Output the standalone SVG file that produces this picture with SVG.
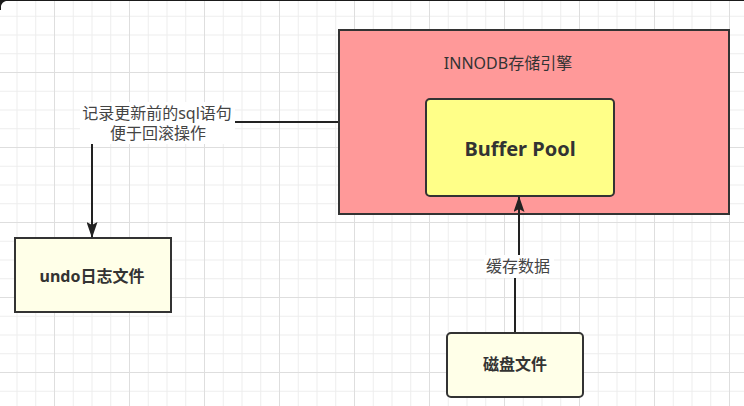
<svg xmlns="http://www.w3.org/2000/svg" width="744" height="406" viewBox="0 0 744 406">
  <defs>
    <pattern id="minor" x="-2.25" y="-3" width="18.75" height="18.75" patternUnits="userSpaceOnUse">
      <path d="M0 0.5 H18.75 M0.5 0 V18.75" fill="none" stroke="#ededed" stroke-width="1"/>
    </pattern>
    <pattern id="major" x="-21" y="-3" width="75" height="75" patternUnits="userSpaceOnUse">
      <path d="M0 0.5 H75 M0.5 0 V75" fill="none" stroke="#dedede" stroke-width="1"/>
    </pattern>
    <marker id="arrow" viewBox="0 0 16 11" refX="15" refY="5.5" markerWidth="16" markerHeight="11" markerUnits="userSpaceOnUse" orient="auto">
      <path d="M0 0 L16 5.5 L0 11 L3 5.5 Z" fill="#222"/>
    </marker>
    <style>
      .box { stroke: #333; stroke-width: 2; }
      .title { font-family: "Noto Sans", "Noto Sans CJK SC", sans-serif; fill: #333; text-anchor: middle; dominant-baseline: central; }
      .bold { font-weight: bold; font-size: 16px; }
      .label { font-family: "Noto Sans", "Noto Sans CJK SC", sans-serif; font-size: 16px; fill: #444; text-anchor: middle; dominant-baseline: central; }
      .edge { fill: none; stroke: #222; stroke-width: 2; }
    </style>
  </defs>

  <rect width="744" height="406" fill="#ffffff"/>
  <rect width="744" height="406" fill="url(#minor)"/>
  <rect width="744" height="406" fill="url(#major)"/>
  <path d="M0 0 H744 V1 H6 Q2 2 1 6 V10 H0 Z" fill="#1a1a1a"/>

  <g id="innodb">
    <rect class="box" x="339" y="30" width="390" height="184" fill="#ff9999"/>
    <text class="title" x="508" y="63" font-size="16">INNODB存储引擎</text>
  </g>

  <g id="buffer-pool">
    <rect class="box" x="426" y="99" width="188" height="97" rx="4" fill="#ffff88"/>
    <text class="title" x="520" y="148" font-size="20" font-weight="bold">Buffer Pool</text>
  </g>

  <g id="undo">
    <rect class="box" x="15" y="238" width="156" height="74" fill="#ffffe8"/>
    <text class="title bold" x="92" y="276">undo日志文件</text>
  </g>

  <g id="disk">
    <rect class="box" x="447" y="333" width="136" height="64" rx="4" fill="#ffffe8"/>
    <text class="title bold" x="515" y="364">磁盘文件</text>
  </g>

  <g id="connectors">
    <g id="edge-undo">
      <path class="edge" d="M338 122 H92 V237" marker-end="url(#arrow)"/>
      <rect x="80" y="102" width="155" height="42" fill="#ffffff"/>
      <text class="label" x="157" y="113">记录更新前的sql语句</text>
      <text class="label" x="158" y="133">便于回滚操作</text>
    </g>
    <g id="edge-cache">
      <path class="edge" d="M515 332 V266 H519 V197" marker-end="url(#arrow)"/>
      <rect x="484" y="255" width="70" height="23" fill="#ffffff"/>
      <text class="label" x="518" y="266">缓存数据</text>
    </g>
  </g>
</svg>
